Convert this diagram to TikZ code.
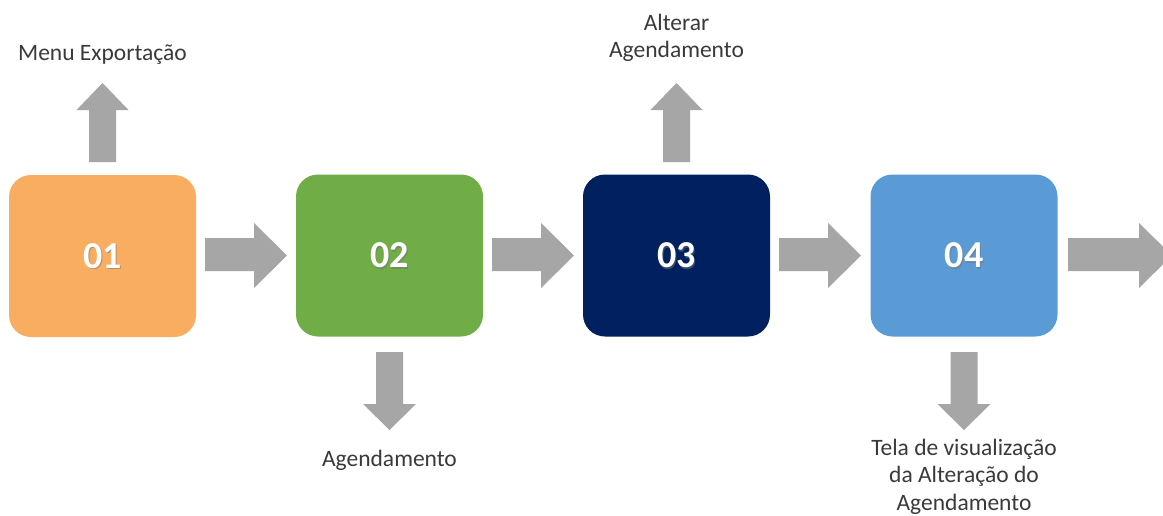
\documentclass[tikz,border=0pt]{standalone}
\usepackage{fontspec}
\setmainfont{Carlito}
\definecolor{c1}{HTML}{F8AD61}
\definecolor{c2}{HTML}{70AD47}
\definecolor{c3}{HTML}{002060}
\definecolor{c4}{HTML}{5B9BD5}
\definecolor{arr}{HTML}{A6A6A6}
\definecolor{txt}{HTML}{3A3A3A}
\begin{document}
\begin{tikzpicture}[x=1pt,y=-1pt,
  box/.style={minimum width=187pt,minimum height=162pt,rounded corners=22pt,inner sep=0pt,draw=none},
  num/.style={text=white,font=\bfseries\fontsize{38}{40}\selectfont},
  lbl/.style={text=txt,font=\fontsize{23.5}{27.5}\selectfont,align=center,inner sep=0pt},
  blk/.style={fill=arr}]
\clip (0,0) rectangle (1163,515);
\fill[white] (0,0) rectangle (1163,515);
% boxes
\node[box,fill=c1] (b1) at (102.5,256) {};
\node[box,fill=c2] (b2) at (389.5,255.5) {};
\node[box,fill=c3] (b3) at (676.5,255.5) {};
\node[box,fill=c4] (b4) at (964,255.5) {};
\foreach \n/\t in {b1/01,b2/02,b3/03,b4/04}{
  \node[num,text=black!55,opacity=0.5] at ([xshift=1.2pt,yshift=-1.2pt]\n.center) {\t};
  \node[num] (t\n) at (\n.center) {\t};
}
% horizontal arrows
\foreach \a/\h/\t in {205/254/287, 492/541/574, 779/828/861, 1068/1139/1172}{
  \fill[blk] (\a,238) -- (\h,238) -- (\h,223) -- (\t,255.5) -- (\h,288) -- (\h,271) -- (\a,271) -- cycle;
}
% up arrows
\foreach \c in {102.5,676.5}{
  \fill[blk] (\c-13.5,162) -- (\c-13.5,110) -- (\c-26,110) -- (\c,83) -- (\c+26,110) -- (\c+13.5,110) -- (\c+13.5,162) -- cycle;
}
% down arrows
\foreach \c in {389.5,964}{
  \fill[blk] (\c-13.5,352) -- (\c-13.5,404) -- (\c-26.5,404) -- (\c,430) -- (\c+26.5,404) -- (\c+13.5,404) -- (\c+13.5,352) -- cycle;
}
% labels
\node[lbl,anchor=base] (l1) at (102.5,60) {Menu Exportação};
\node[lbl,anchor=north] (l3) at (676.5,13.5) {Alterar\\Agendamento};
\node[lbl,anchor=base] (l2) at (389.5,466) {Agendamento};
\node[lbl,anchor=north] (l4) at (964,438.5) {Tela de visualização\\da Alteração do\\Agendamento};
\end{tikzpicture}
\end{document}
